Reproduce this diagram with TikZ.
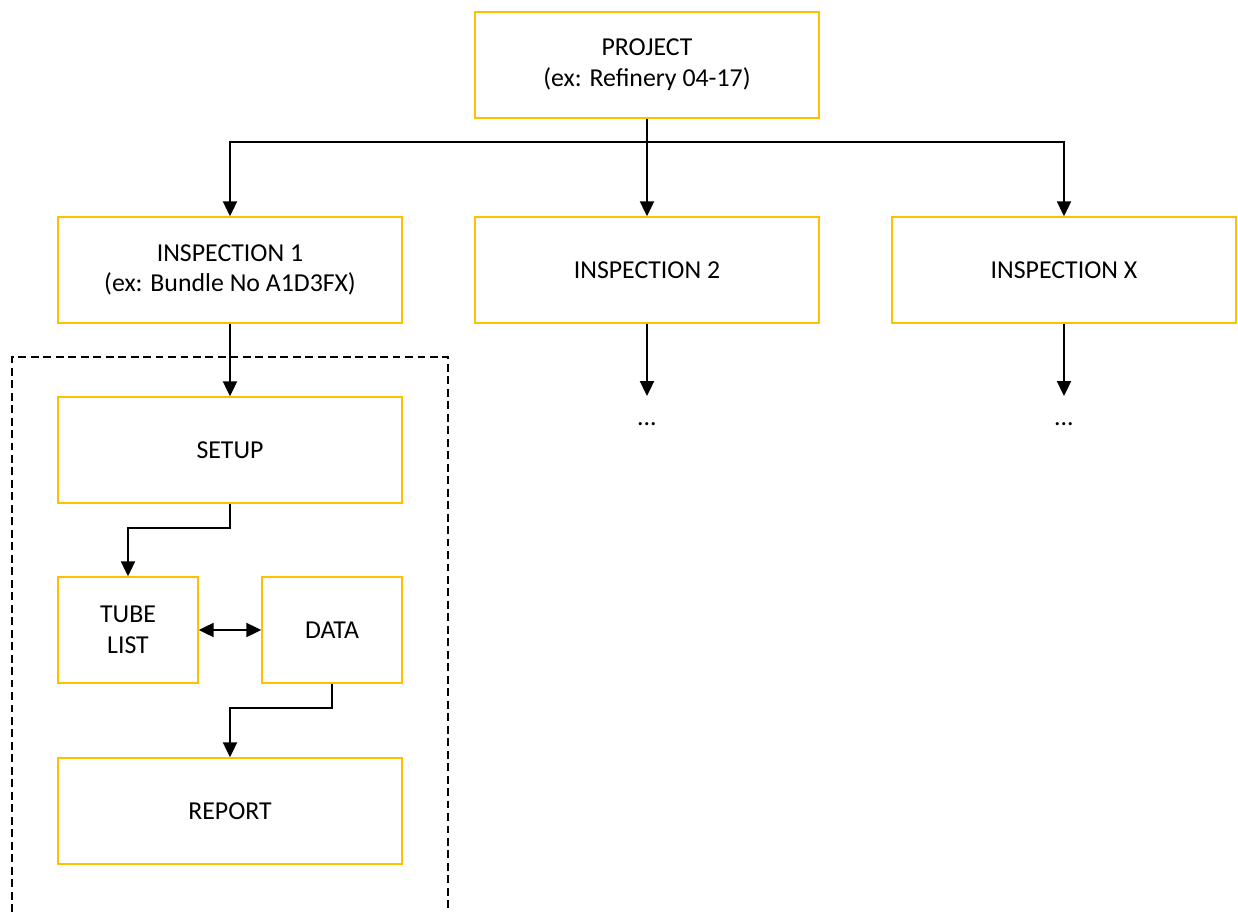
\documentclass[tikz,border=0pt]{standalone}
\usepackage{fontspec}
\setmainfont{Carlito}
\usepackage{xcolor}
\usetikzlibrary{arrows.meta,positioning}
\definecolor{boxgold}{HTML}{FFC000}

\begin{document}
\begin{tikzpicture}[x=0.02cm, y=-0.02cm,
    >={Triangle[length=8.5pt,width=8pt]},
    box/.style={draw=boxgold, line width=0.85pt, fill=white, align=center,
        minimum width=6.88cm, minimum height=2.12cm, inner sep=2pt,
        font=\fontsize{14.7}{17.5}\selectfont},
    smallbox/.style={box, minimum width=2.8cm},
    dotsnode/.style={anchor=north, text height=3ex, text depth=0pt,
        inner sep=2pt, font=\fontsize{14.7}{17.5}\selectfont},
    link/.style={->, line width=1.1pt}]

    \useasboundingbox (0,0) rectangle (1238,912);

    % group of inspection 1 (runs off the bottom)
    \draw[line width=0.8pt, dash pattern=on 4.5pt off 2.6pt]
        (12,912) -- (12,357) -- (448,357) -- (448,912);

    % top level
    \node[box] (project) at (647,65) {PROJECT\\(ex: Refinery 04-17)};

    % inspections
    \node[box] (insp1) at (230,270) {INSPECTION 1\\(ex: Bundle No A1D3FX)};
    \node[box] (insp2) at (647,270) {INSPECTION 2};
    \node[box] (inspX) at (1064,270) {INSPECTION X};

    \coordinate (bus) at (647,142);
    \draw[line width=1.1pt] (project.south) -- (bus);
    \draw[link] (bus) -- (insp2.north);
    \draw[link] (bus) -| (insp1.north);
    \draw[link] (bus) -| (inspX.north);

    \node[dotsnode] (dots2) at (647,396) {...};
    \node[dotsnode] (dotsX) at (1064,396) {...};
    \draw[link] (insp2.south) -- (dots2.north);
    \draw[link] (inspX.south) -- (dotsX.north);

    % steps of inspection 1
    \node[box] (setup) at (230,450) {SETUP};
    \node[smallbox] (tube) at (128,630) {TUBE\\LIST};
    \node[smallbox] (data) at (332,630) {DATA};
    \node[box] (report) at (230,811) {REPORT};

    \draw[link] (insp1.south) -- (setup.north);
    \draw[link] (setup.south) -- ++(0,24) -| (tube.north);
    \draw[<->, line width=1.1pt] (tube.east) -- (data.west);
    \draw[link] (data.south) -- ++(0,24) -| (report.north);

\end{tikzpicture}
\end{document}
